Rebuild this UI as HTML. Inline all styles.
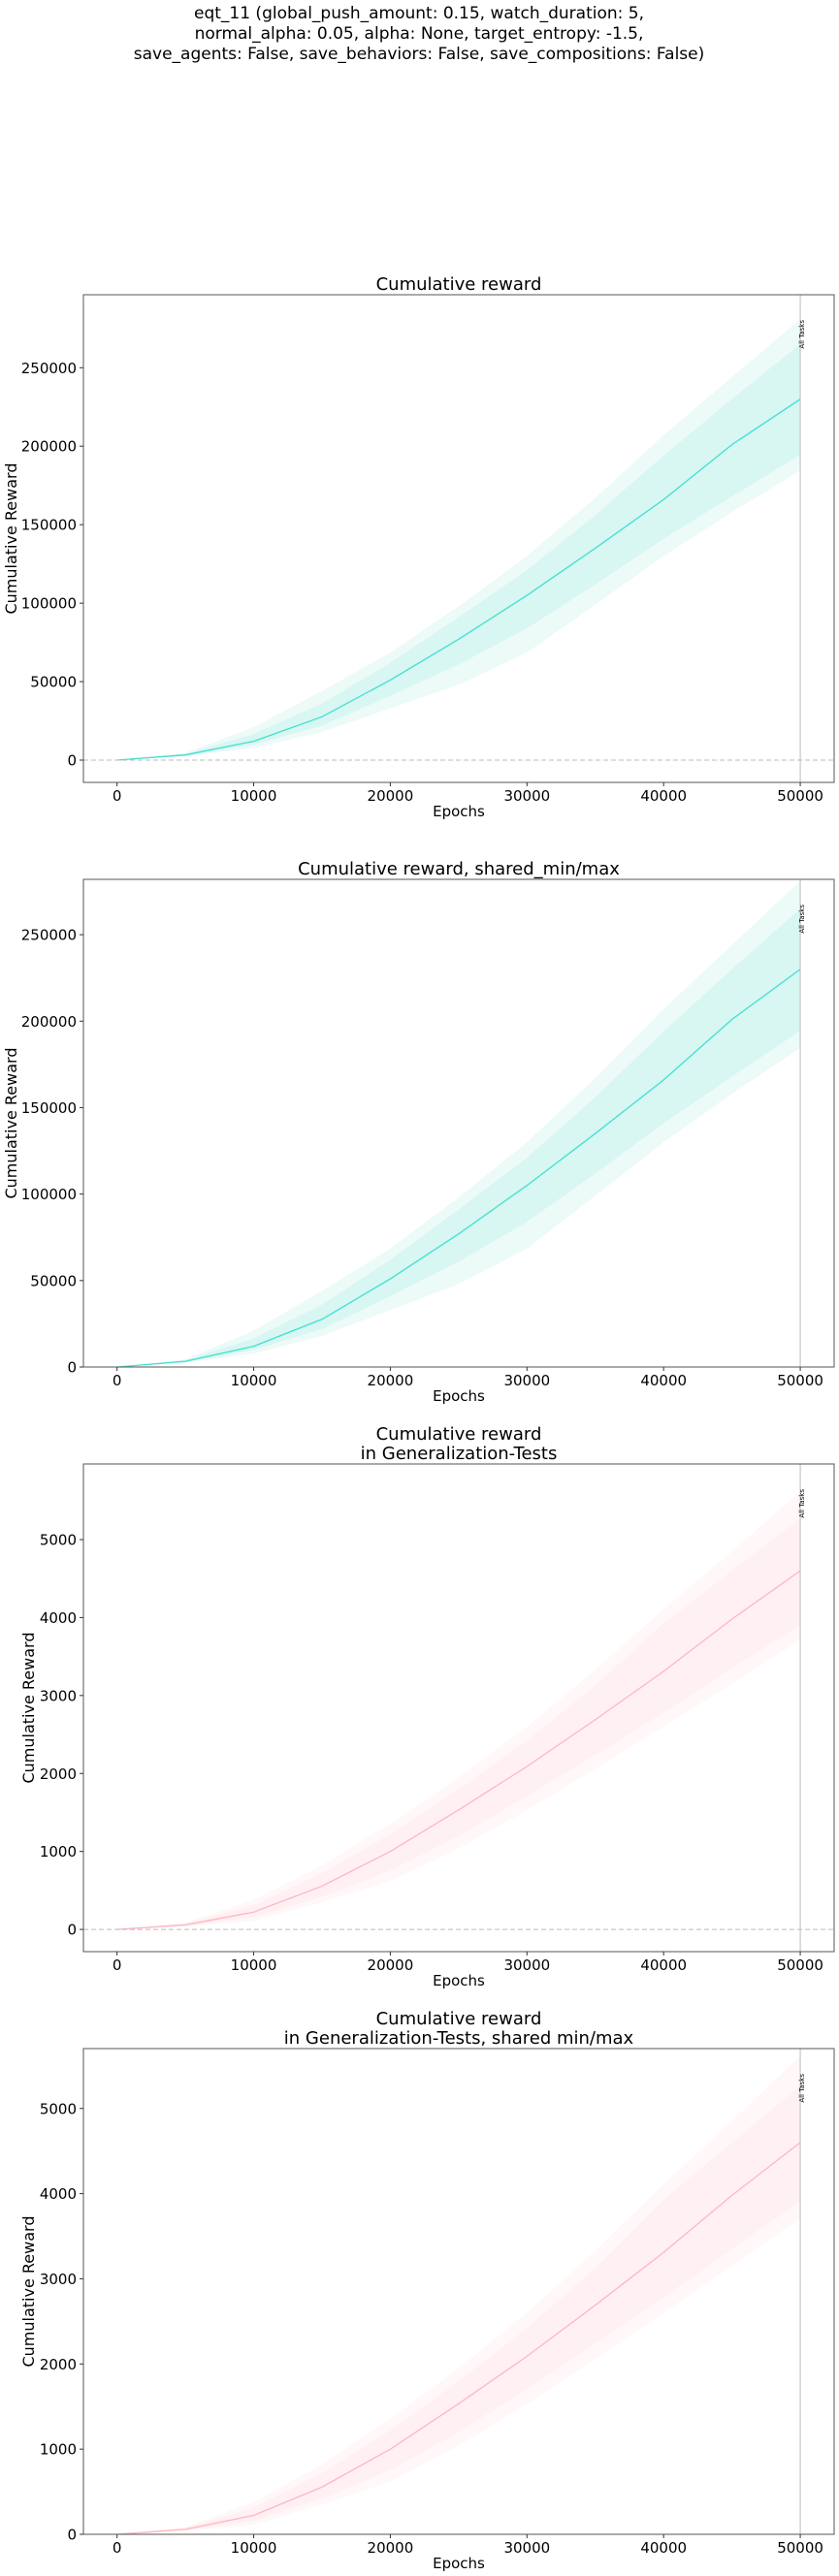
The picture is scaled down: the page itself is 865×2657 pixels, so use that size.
<!DOCTYPE html>
<html><head><meta charset="utf-8"><style>
html,body{margin:0;padding:0;background:#fff;}
svg{display:block;}
text{font-family:"DejaVu Sans","Liberation Sans",sans-serif;fill:#000;}
</style></head><body>
<svg id="fig" width="865" height="2657" viewBox="0 0 865 2657" xmlns="http://www.w3.org/2000/svg">
<g font-size="17" text-anchor="middle">
<text x="432" y="19">eqt_11 (global_push_amount: 0.15, watch_duration: 5,</text>
<text x="432" y="40">normal_alpha: 0.05, alpha: None, target_entropy: -1.5,</text>
<text x="432" y="61">save_agents: False, save_behaviors: False, save_compositions: False)</text>
</g>
</svg>
<script>
const epochs = [0, 5000, 10000, 15000, 20000, 25000, 30000, 35000, 40000, 45000, 50000];
const trainMean = [0, 3300, 12000, 27600, 51000, 77000, 105000, 135000, 166000, 201000, 230000];
const trainInnerHi = [0, 4000, 16500, 36000, 62000, 91000, 121000, 156000, 194000, 230000, 265000];
const trainInnerLo = [0, 2700, 10000, 22000, 41000, 61000, 84000, 112000, 141000, 168000, 194500];
const trainOuterHi = [0, 4500, 21000, 44000, 68500, 98000, 130000, 167000, 207000, 244000, 281000];
const trainOuterLo = [0, 2400, 7700, 18000, 33000, 48000, 68500, 99000, 130000, 158000, 184500];
const genMean = [0, 58, 222, 555, 1000, 1533, 2090, 2690, 3310, 3980, 4600];
const genInnerHi = [0, 75, 311, 720, 1220, 1800, 2420, 3130, 3930, 4600, 5270];
const genInnerLo = [0, 45, 155, 420, 755, 1200, 1710, 2240, 2780, 3350, 3910];
const genOuterHi = [0, 85, 378, 820, 1355, 1950, 2600, 3330, 4110, 4850, 5620];
const genOuterLo = [0, 38, 111, 350, 620, 1040, 1530, 2060, 2600, 3150, 3710];
const xTicks = [0, 10000, 20000, 30000, 40000, 50000];
const trainYTicks = [0, 50000, 100000, 150000, 200000, 250000];
const genYTicks = [0, 1000, 2000, 3000, 4000, 5000];

const NS = "http://www.w3.org/2000/svg";
const svg = document.getElementById('fig');
function mk(tag, attrs, parent){const e=document.createElementNS(NS,tag);for(const k in attrs)e.setAttribute(k,attrs[k]);parent.appendChild(e);return e;}

function chart(cfg){
  const g = mk('g',{},svg);
  
  
  const L=86,R=860,T=cfg.top,B=cfg.bottom;
  const xs=v=>L+(v-(-2460))/(52480-(-2460))*(R-L);
  const ys=v=>B-(v-cfg.ymin)/(cfg.ymax-cfg.ymin)*(B-T);
  const clipId='clip'+cfg.name;
  const cp=mk('clipPath',{id:clipId},g); mk('rect',{x:L,y:T,width:R-L,height:B-T},cp);
  const area=(hi,lo,fill,nm)=>{
    let d='M'+epochs.map((e,i)=>xs(e)+','+ys(hi[i])).join('L');
    d+='L'+epochs.slice().reverse().map((e,j)=>{const i=epochs.length-1-j;return xs(e)+','+ys(lo[i]);}).join('L')+'Z';
    const p=mk('path',{d:d,fill:fill,'clip-path':'url(#'+clipId+')'},g);
    
    
  };
  area(cfg.oh,cfg.ol,cfg.outer,'minmax-band');
  area(cfg.ih,cfg.il,cfg.inner,'std-band');
  const ln=mk('polyline',{points:epochs.map((e,i)=>xs(e)+','+ys(cfg.mean[i])).join(' '),fill:'none',stroke:cfg.color,'stroke-width':1.3},g);
  
  
  if(cfg.zero){
    const z=mk('line',{x1:L,x2:R,y1:ys(0),y2:ys(0),stroke:'#bbb','stroke-width':1,'stroke-dasharray':'5,3'},g);
    
    
  }
  const vx=xs(50000);
  const vl=mk('line',{x1:vx,x2:vx,y1:T,y2:B,stroke:'#bbb','stroke-width':1},g);
  
  
  const at=mk('text',{x:0,y:0,'font-size':7,'text-anchor':'end',transform:'translate('+(vx+4)+','+(T+26)+') rotate(-90)'},g);
  at.textContent='All Tasks';
  
  
  const fr=mk('rect',{x:L,y:T,width:R-L,height:B-T,fill:'none',stroke:'#555','stroke-width':1},g);
  
  
  xTicks.forEach(t=>{
    mk('line',{x1:xs(t),x2:xs(t),y1:B,y2:B+4,stroke:'#333'},g);
    const tx=mk('text',{x:xs(t),y:B+19,'font-size':15,'text-anchor':'middle'},g);
    tx.textContent=t;
    
    
  });
  cfg.yt.forEach(t=>{
    mk('line',{x1:L-4,x2:L,y1:ys(t),y2:ys(t),stroke:'#333'},g);
    const ty=mk('text',{x:L-7,y:ys(t)+5.5,'font-size':15,'text-anchor':'end'},g);
    ty.textContent=t;
    
    
  });
  const xl=mk('text',{x:(L+R)/2,y:B+35,'font-size':15,'text-anchor':'middle'},g);
  xl.textContent='Epochs';
  
  
  const yl=mk('text',{x:0,y:0,'font-size':16,'text-anchor':'middle',transform:'translate('+cfg.ylx+','+((T+B)/2)+') rotate(-90)'},g);
  yl.textContent='Cumulative Reward';
  
  
  cfg.title.forEach((s,i)=>{
    const tt=mk('text',{x:(L+R)/2,y:T-5-(cfg.title.length-1-i)*20,'font-size':18,'text-anchor':'middle'},g);
    tt.textContent=s;
    
    
  });
}
const teal={color:'#40E0D0',inner:'#d8f6f2',outer:'#ecfaf8'};
const pink={color:'#FFB6C1',inner:'#fff0f3',outer:'#fff7f8'};
chart(Object.assign({name:'cumulative-reward-chart',top:304,bottom:807,ymin:-14200,ymax:296500,zero:true,ylx:17,yt:trainYTicks,mean:trainMean,ih:trainInnerHi,il:trainInnerLo,oh:trainOuterHi,ol:trainOuterLo,title:['Cumulative reward']},teal));
chart(Object.assign({name:'cumulative-reward-shared-chart',top:907,bottom:1410,ymin:0,ymax:282000,zero:false,ylx:17,yt:trainYTicks,mean:trainMean,ih:trainInnerHi,il:trainInnerLo,oh:trainOuterHi,ol:trainOuterLo,title:['Cumulative reward, shared_min/max']},teal));
chart(Object.assign({name:'generalization-chart',top:1510,bottom:2013,ymin:-285,ymax:5970,zero:true,ylx:35,yt:genYTicks,mean:genMean,ih:genInnerHi,il:genInnerLo,oh:genOuterHi,ol:genOuterLo,title:['Cumulative reward','in Generalization-Tests']},pink));
chart(Object.assign({name:'generalization-shared-chart',top:2113,bottom:2614,ymin:0,ymax:5703,zero:false,ylx:35,yt:genYTicks,mean:genMean,ih:genInnerHi,il:genInnerLo,oh:genOuterHi,ol:genOuterLo,title:['Cumulative reward','in Generalization-Tests, shared min/max']},pink));
</script>
</body></html>
